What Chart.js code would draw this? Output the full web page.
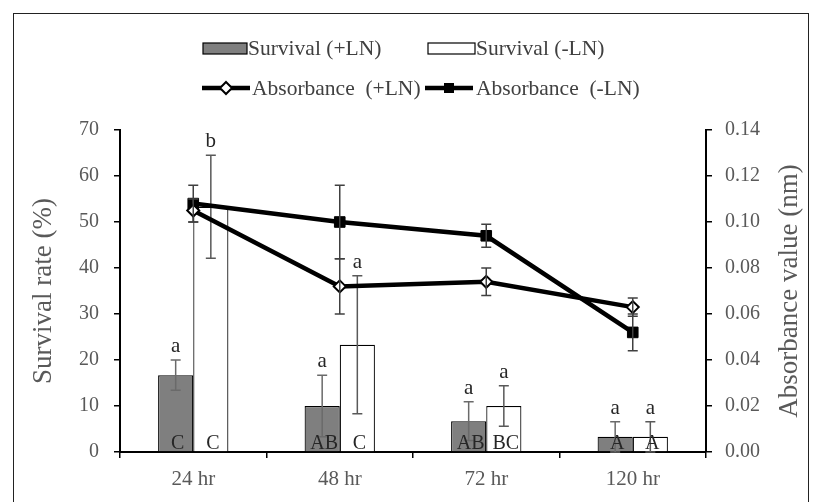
<!DOCTYPE html>
<html>
<head>
<meta charset="utf-8">
<script src="https://cdn.jsdelivr.net/npm/chart.js@4"></script>
<style>
  html, body { margin: 0; padding: 0; background: #fff; }
  #wrap { position: relative; width: 816px; height: 502px; overflow: hidden; }
  #frame { position: absolute; left: 13px; top: 13px; width: 794px; height: 500px;
           border: 1.5px solid #222; border-bottom: none; pointer-events: none; }
</style>
</head>
<body>
<div id="wrap">
  <canvas id="chart" width="816" height="502"></canvas>
  <div id="frame"></div>
</div>
<script>
// data
const categories = ['24 hr', '48 hr', '72 hr', '120 hr'];
const survivalPlus = [16.7, 10.0, 6.7, 3.3];
const survivalPlusErr = [3.3, 6.7, 4.2, 3.3];
const survivalMinus = [53.3, 23.3, 10.0, 3.3];
const survivalMinusErr = [11.2, 15.0, 4.4, 3.3];
const absorbPlus = [0.105, 0.072, 0.074, 0.063];
const absorbPlusErr = [0.005, 0.012, 0.006, 0.004];
const absorbMinus = [0.108, 0.100, 0.094, 0.052];
const absorbMinusErr = [0.008, 0.016, 0.005, 0.008];
const lettersPlus = ['a', 'a', 'a', 'a'];
const lettersMinus = ['b', 'a', 'a', 'a'];
const groupsPlus = ['C', 'AB', 'AB', 'A'];
const groupsMinus = ['C', 'C', 'BC', 'A'];
const leftTicks = [0, 70, 10];
const rightTicks = [0, 0.14, 0.02];
const leftTitle = 'Survival rate (%)';
const rightTitle = 'Absorbance value (nm)';

const FONT = "'Palatino Linotype', 'Book Antiqua', Palatino, 'Liberation Serif', serif";
const GREY_TXT = '#595959';

// error bars drawn right after their own dataset, so lines stay on top of bar errors
const extras = {
    id: 'extras',
    afterDatasetDraw(chart, args) {
        const ds = chart.data.datasets[args.index];
        if (!ds.errors) return;
        const ctx = chart.ctx;
        const yScale = chart.scales[ds.yAxisID];
        ctx.save();
        ctx.strokeStyle = ds.errColor;
        ctx.lineWidth = 1.5;
        args.meta.data.forEach((el, i) => {
            const v = ds.data[i], e = ds.errors[i];
            const y1 = yScale.getPixelForValue(v + e);
            const y2 = yScale.getPixelForValue(v - e);
            const x = el.x;
            ctx.beginPath();
            ctx.moveTo(x, y1); ctx.lineTo(x, y2);
            ctx.moveTo(x - 5, y1); ctx.lineTo(x + 5, y1);
            ctx.moveTo(x - 5, y2); ctx.lineTo(x + 5, y2);
            ctx.stroke();
        });
        ctx.restore();
    },
    afterDatasetsDraw(chart) {
        const ctx = chart.ctx;
        const y = chart.scales.y;
        ctx.save();
        ctx.fillStyle = '#262626';
        ctx.textAlign = 'center';
        ctx.textBaseline = 'alphabetic';
        [0, 1].forEach(d => {
            const ds = chart.data.datasets[d];
            const meta = chart.getDatasetMeta(d);
            meta.data.forEach((el, i) => {
                const top = y.getPixelForValue(ds.data[i] + ds.errors[i]);
                ctx.font = '21px ' + FONT;
                ctx.fillText(ds.letters[i], el.x, top - 8);
                ctx.font = '20px ' + FONT;
                ctx.fillText(ds.groups[i], el.x + 2, y.getPixelForValue(0) - 3);
            });
        });
        ctx.restore();
    },
    afterDraw(chart) {
        const ctx = chart.ctx;
        const area = chart.chartArea;
        const midY = (area.top + area.bottom) / 2;
        ctx.save();
        // axis titles, both read bottom to top
        ctx.font = '27px ' + FONT;
        ctx.fillStyle = GREY_TXT;
        ctx.textAlign = 'center';
        ctx.textBaseline = 'middle';
        ctx.save();
        ctx.translate(44, midY); ctx.rotate(-Math.PI / 2);
        ctx.fillText(leftTitle, 0, 0);
        ctx.restore();
        ctx.save();
        ctx.translate(790, midY); ctx.rotate(-Math.PI / 2);
        ctx.fillText(rightTitle, 0, 0);
        ctx.restore();

        // legend
        ctx.font = '21.5px ' + FONT;
        ctx.textAlign = 'left';
        ctx.lineWidth = 1.2;
        ctx.strokeStyle = '#000';
        ctx.fillStyle = '#7f7f7f';
        ctx.fillRect(203, 43, 44, 11); ctx.strokeRect(203, 43, 44, 11);
        ctx.fillStyle = '#fff';
        ctx.fillRect(428, 43, 47, 11); ctx.strokeRect(428, 43, 47, 11);
        ctx.fillStyle = '#404040';
        ctx.fillText(chart.data.datasets[0].label, 248, 49);
        ctx.fillText(chart.data.datasets[1].label, 476, 49);
        ctx.lineWidth = 4.5;
        ctx.beginPath(); ctx.moveTo(202, 88); ctx.lineTo(250, 88); ctx.stroke();
        ctx.beginPath(); ctx.moveTo(425, 88); ctx.lineTo(473, 88); ctx.stroke();
        ctx.lineWidth = 2;
        ctx.fillStyle = '#fff';
        ctx.beginPath();
        ctx.moveTo(226, 82); ctx.lineTo(232, 88); ctx.lineTo(226, 94); ctx.lineTo(220, 88); ctx.closePath();
        ctx.fill(); ctx.stroke();
        ctx.fillStyle = '#000';
        ctx.fillRect(444, 83, 10, 10);
        ctx.fillStyle = '#404040';
        ctx.fillText('Absorbance  (+LN)', 252, 89);
        ctx.fillText('Absorbance  (-LN)', 476, 89);
        ctx.restore();
    }
};

const ctx = document.getElementById('chart').getContext('2d');
new Chart(ctx, {
    type: 'bar',
    data: {
        labels: categories,
        datasets: [
            {
                label: 'Survival (+LN)', data: survivalPlus, errors: survivalPlusErr,
                letters: lettersPlus, groups: groupsPlus, errColor: '#6a6a6a',
                backgroundColor: '#7f7f7f', borderColor: '#000', borderWidth: 1.2,
                yAxisID: 'y', order: 2
            },
            {
                label: 'Survival (-LN)', data: survivalMinus, errors: survivalMinusErr,
                letters: lettersMinus, groups: groupsMinus, errColor: '#595959',
                backgroundColor: '#fff', borderColor: '#000', borderWidth: 1.2,
                yAxisID: 'y', order: 2
            },
            {
                type: 'line', label: 'Absorbance (+LN)', data: absorbPlus, errors: absorbPlusErr,
                errColor: '#404040', yAxisID: 'y1', order: 0,
                borderColor: '#000', borderWidth: 4.5, pointStyle: 'rectRot', pointRadius: 6,
                pointBackgroundColor: '#fff', pointBorderColor: '#000', pointBorderWidth: 2
            },
            {
                type: 'line', label: 'Absorbance (-LN)', data: absorbMinus, errors: absorbMinusErr,
                errColor: '#404040', yAxisID: 'y1', order: 1,
                borderColor: '#000', borderWidth: 4.5, pointStyle: 'rect', pointRadius: 7.5,
                pointBackgroundColor: '#000', pointBorderColor: '#000', pointBorderWidth: 1
            }
        ]
    },
    options: {
        responsive: false,
        animation: false,
        layout: { padding: { top: 130, left: 0, right: 0, bottom: 0 } },
        categoryPercentage: 0.48,
        barPercentage: 1.0,
        plugins: { legend: { display: false }, tooltip: { enabled: false } },
        scales: {
            x: {
                afterFit: s => { s.height = 50; },
                grid: { drawOnChartArea: false, color: '#000', tickLength: 6, lineWidth: 1.5 },
                border: { color: '#000', width: 2 },
                ticks: { color: GREY_TXT, padding: 9, font: { family: FONT, size: 21 } }
            },
            y: {
                position: 'left',
                min: leftTicks[0], max: leftTicks[1],
                afterFit: s => { s.width = 120; },
                grid: { drawOnChartArea: false, color: '#000', tickLength: 6, lineWidth: 1.5 },
                border: { color: '#000', width: 2 },
                ticks: { stepSize: leftTicks[2], color: GREY_TXT, padding: 15, font: { family: FONT, size: 20 } }
            },
            y1: {
                position: 'right',
                min: rightTicks[0], max: rightTicks[1],
                afterFit: s => { s.width = 110; },
                grid: { drawOnChartArea: false, color: '#000', tickLength: 6, lineWidth: 1.5 },
                border: { color: '#000', width: 2 },
                ticks: { stepSize: rightTicks[2], color: GREY_TXT, padding: 13,
                         font: { family: FONT, size: 20 }, callback: v => v.toFixed(2) }
            }
        }
    },
    plugins: [extras]
});
</script>
</body>
</html>
